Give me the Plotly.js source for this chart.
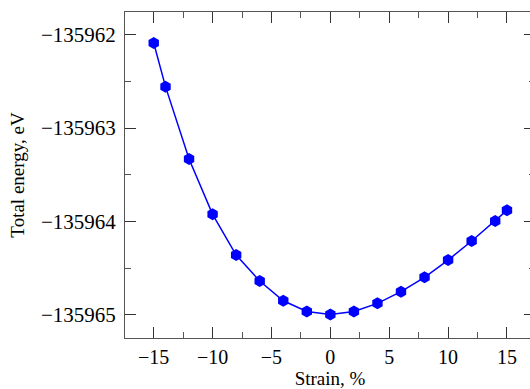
<!DOCTYPE html>
<html>
<head>
<meta charset="utf-8">
<script src="https://cdn.plot.ly/plotly-3.0.1.min.js"></script>
<style>
html,body{margin:0;padding:0;overflow:hidden;background:#fff;}
#wrap{width:530px;height:389px;overflow:hidden;}
#chart{width:540px;height:389px;}
</style>
</head>
<body>
<div id="wrap"><div id="chart"></div></div>
<script>
const strain = [-15, -14, -12, -10, -8, -6, -4, -2, 0, 2, 4, 6, 8, 10, 12, 14, 15];
const energy = [-135962.089, -135962.557, -135963.332, -135963.925, -135964.361, -135964.640,
                -135964.851, -135964.965, -135964.997, -135964.965, -135964.879, -135964.754,
                -135964.600, -135964.415, -135964.211, -135963.997, -135963.882];
const xTicks = [-15, -10, -5, 0, 5, 10, 15];
const yTicks = [-135962, -135963, -135964, -135965];

const fam = 'Liberation Serif, Times New Roman, serif';
const font = {family: fam, size: 21, color: '#000'};

const trace = {
  x: strain, y: energy, type: 'scatter', mode: 'lines+markers',
  line: {color: '#0000ff', width: 1.5},
  marker: {symbol: 'hexagon', size: 12, color: '#0000ff'},
  showlegend: false
};

const axisCommon = {
  showgrid: false, zeroline: false, showline: true, linecolor: '#555', linewidth: 1,
  mirror: 'allticks', ticks: 'inside', ticklen: 11, tickwidth: 1, tickcolor: '#333',
  tickfont: font,
  minor: {ticks: 'inside', ticklen: 6, tickwidth: 1, tickcolor: '#555'}
};

const layout = {
  width: 540, height: 389,
  margin: {l: 125, r: 5, t: 12, b: 51},
  paper_bgcolor: '#fff', plot_bgcolor: '#fff',
  font: font,
  xaxis: Object.assign({}, axisCommon, {
    range: [-17.44, 17.38],
    tickvals: xTicks,
    tickfont: {family: fam, size: 20, color: '#000'},
    ticklabelstandoff: 1,
    minor: Object.assign({}, axisCommon.minor, {dtick: 2.5, tick0: 0}),
    title: {text: 'Strain, %', font: {family: fam, size: 19, color: '#000'}, standoff: 7}
  }),
  yaxis: Object.assign({}, axisCommon, {
    range: [-135965.25, -135961.757],
    tickvals: yTicks,
    tickformat: 'd',
    ticklabelstandoff: 4,
    minor: Object.assign({}, axisCommon.minor, {dtick: 0.5, tick0: 0}),
    title: {text: 'Total energy, eV', font: {family: fam, size: 19, color: '#000'}, standoff: 11}
  })
};

Plotly.newPlot('chart', [trace], layout, {displayModeBar: false, staticPlot: true});
</script>
</body>
</html>
